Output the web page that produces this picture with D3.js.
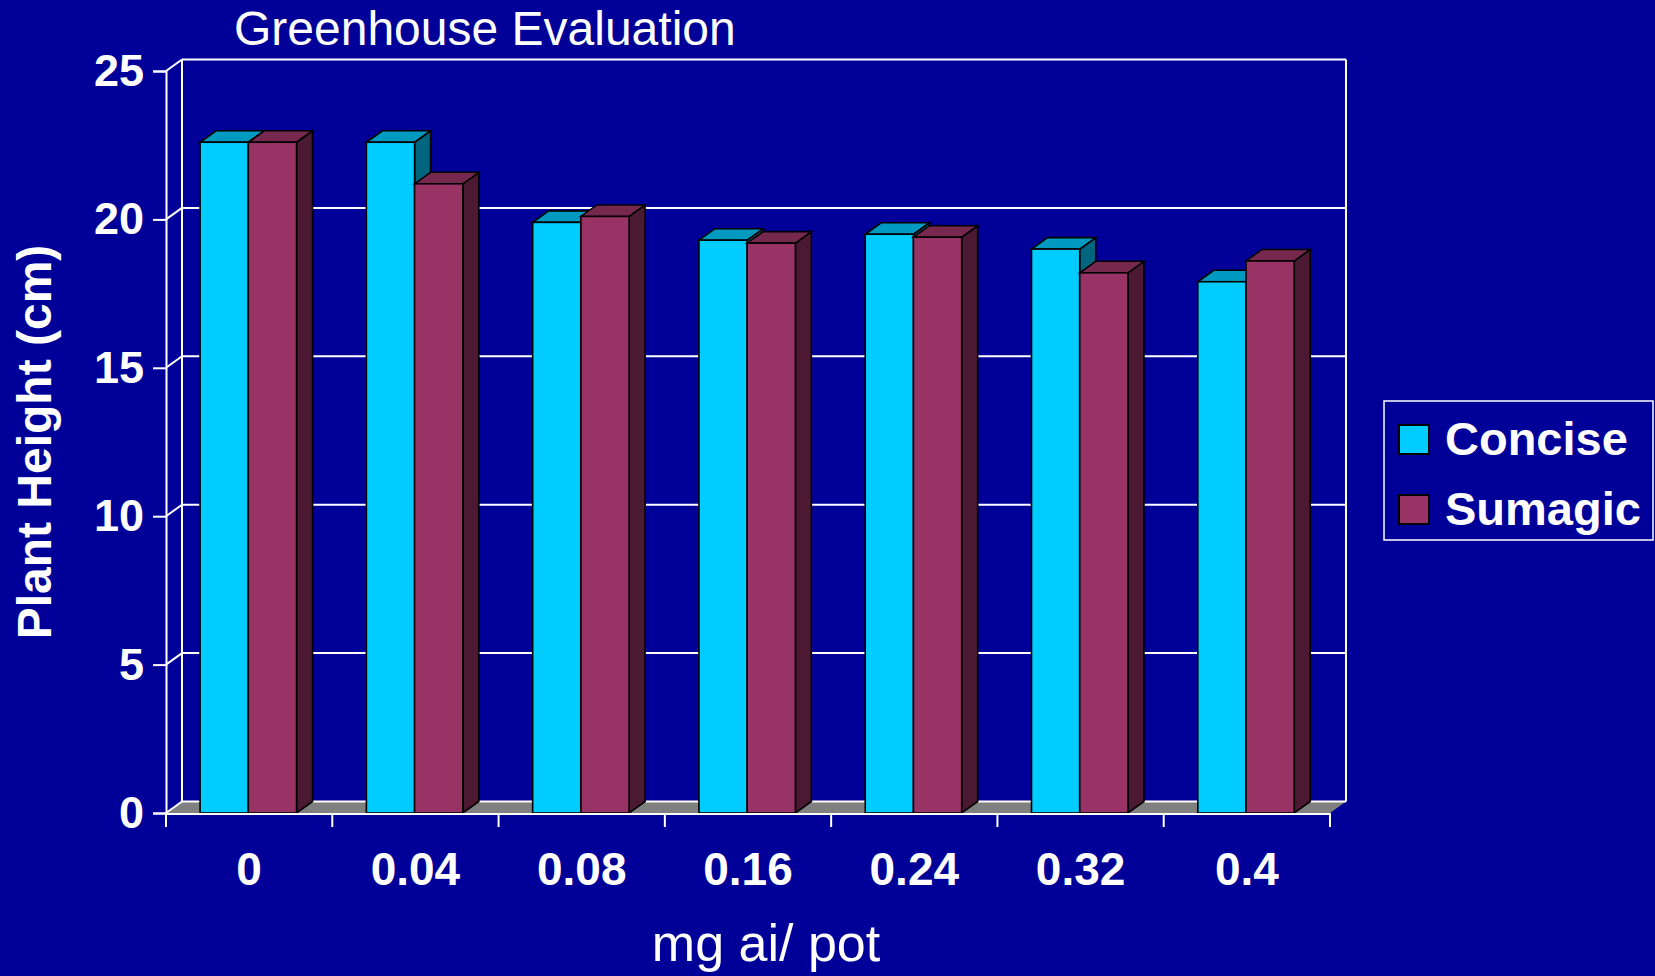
<!DOCTYPE html>
<html>
<head>
<meta charset="utf-8">
<script src="https://cdn.jsdelivr.net/npm/d3@7"></script>
<style>
  html, body { margin: 0; padding: 0; background: #000099; }
  svg { display: block; }
  text { font-family: "Liberation Sans", Arial, sans-serif; fill: #ffffff; }
</style>
</head>
<body>
<svg id="chart" width="1655" height="976"></svg>
<script>
const categories = ["0", "0.04", "0.08", "0.16", "0.24", "0.32", "0.4"];
const seriesNames = ["Concise", "Sumagic"];
const concise = [22.6, 22.6, 19.9, 19.3, 19.5, 19.0, 17.9];
const sumagic = [22.6, 21.2, 20.1, 19.2, 19.4, 18.2, 18.6];
const yTicks = [0, 5, 10, 15, 20, 25];
const titleText = "Greenhouse Evaluation";
const xTitle = "mg ai/ pot";
const yTitle = "Plant Height (cm)";

const seriesValues = [concise, sumagic];
const colors = {
  Concise: { front: "#00CCFF", top: "#0099BF", side: "#006680" },
  Sumagic: { front: "#993366", top: "#76284F", side: "#4C1933" }
};

const svg = d3.select("#chart");
svg.append("rect").attr("width", 1655).attr("height", 976).attr("fill", "#000099");

const left = 166, right = 1330, y0px = 813, y25px = 71;
const dx = 16, dy = -11.5;

const x = d3.scaleBand().domain(categories).range([left, right]).padding(0);
const bw = x.bandwidth();
const xs = d3.scaleBand().domain(seriesNames).range([bw * 0.205, bw * 0.785]).padding(0);
const y = d3.scaleLinear().domain([0, 25]).range([y0px, y25px]);

// Floor
svg.append("polygon")
  .attr("points", [[left, y(0)], [right, y(0)], [right + dx, y(0) + dy], [left + dx, y(0) + dy]].map(p => p.join(",")).join(" "))
  .attr("fill", "#808080");

// Back wall frame + gridlines
const wall = svg.append("g").attr("stroke", "#ffffff").attr("stroke-width", 2).attr("fill", "none");
yTicks.forEach(t => {
  wall.append("line").attr("x1", left + dx).attr("x2", right + dx).attr("y1", y(t) + dy).attr("y2", y(t) + dy);
  wall.append("line").attr("x1", left).attr("x2", left + dx).attr("y1", y(t)).attr("y2", y(t) + dy);
});
wall.append("line").attr("x1", left + dx).attr("x2", left + dx).attr("y1", y(25) + dy).attr("y2", y(0) + dy);
wall.append("line").attr("x1", right + dx).attr("x2", right + dx).attr("y1", y(25) + dy).attr("y2", y(0) + dy);

// Bars
const barData = [];
categories.forEach((c, i) => {
  seriesNames.forEach((s, j) => {
    barData.push({ cat: c, series: s, value: seriesValues[j][i] });
  });
});
const bars = svg.append("g").attr("stroke", "#000000").attr("stroke-width", 1.6).attr("stroke-linejoin", "miter");
barData.forEach(d => {
  const bx = x(d.cat) + xs(d.series);
  const w = xs.bandwidth();
  const yt = y(d.value), yb = y(0);
  const col = colors[d.series];
  const g = bars.append("g");
  g.append("polygon")
    .attr("points", [[bx + w, yt], [bx + w + dx, yt + dy], [bx + w + dx, yb + dy], [bx + w, yb]].map(p => p.join(",")).join(" "))
    .attr("fill", col.side);
  g.append("polygon")
    .attr("points", [[bx, yt], [bx + dx, yt + dy], [bx + w + dx, yt + dy], [bx + w, yt]].map(p => p.join(",")).join(" "))
    .attr("fill", col.top);
  g.append("rect").attr("x", bx).attr("y", yt).attr("width", w).attr("height", yb - yt).attr("fill", col.front);
});

// Y axis
const yAxis = svg.append("g").attr("transform", `translate(${left},0)`)
  .call(d3.axisLeft(y).tickValues(yTicks).tickSize(13).tickPadding(9).tickFormat(d3.format("d")));
yAxis.select(".domain").attr("stroke", "#ffffff").attr("stroke-width", 2);
yAxis.selectAll(".tick line").attr("stroke", "#ffffff").attr("stroke-width", 2);
yAxis.selectAll(".tick text")
  .attr("fill", "#ffffff").attr("font-size", 45).attr("font-weight", "bold")
  .attr("font-family", "'Liberation Sans', Arial, sans-serif");

// X axis line + ticks at category boundaries
const xa = svg.append("g").attr("stroke", "#ffffff").attr("stroke-width", 2);
xa.append("line").attr("x1", left).attr("x2", right).attr("y1", y0px + 1).attr("y2", y0px + 1);
categories.concat(["__end"]).forEach((c, i) => {
  const px = i < categories.length ? x(c) : right;
  xa.append("line").attr("x1", px).attr("x2", px).attr("y1", y0px).attr("y2", y0px + 14);
});
svg.append("g").selectAll("text").data(categories).join("text")
  .attr("x", d => x(d) + bw / 2)
  .attr("y", 885)
  .attr("text-anchor", "middle")
  .attr("font-size", 46).attr("font-weight", "bold")
  .text(d => d);

// Titles
svg.append("text").attr("x", 234).attr("y", 45).attr("font-size", 48).text(titleText);
svg.append("text").attr("x", 766).attr("y", 961).attr("text-anchor", "middle").attr("font-size", 52).text(xTitle);
svg.append("text")
  .attr("transform", "translate(51,442) rotate(-90)")
  .attr("text-anchor", "middle").attr("font-size", 48).attr("font-weight", "bold")
  .text(yTitle);

// Legend
const lg = svg.append("g");
lg.append("rect").attr("x", 1384).attr("y", 401).attr("width", 269).attr("height", 139)
  .attr("fill", "none").attr("stroke", "#ffffff").attr("stroke-width", 1.5);
const legendY = [425, 495];
seriesNames.forEach((s, i) => {
  lg.append("rect").attr("x", 1399).attr("y", legendY[i]).attr("width", 30).attr("height", 29)
    .attr("fill", colors[s].front).attr("stroke", "#000000").attr("stroke-width", 2);
  lg.append("text").attr("x", 1445).attr("y", legendY[i] + 30)
    .attr("font-size", 47).attr("font-weight", "bold").text(s);
});
</script>
</body>
</html>
